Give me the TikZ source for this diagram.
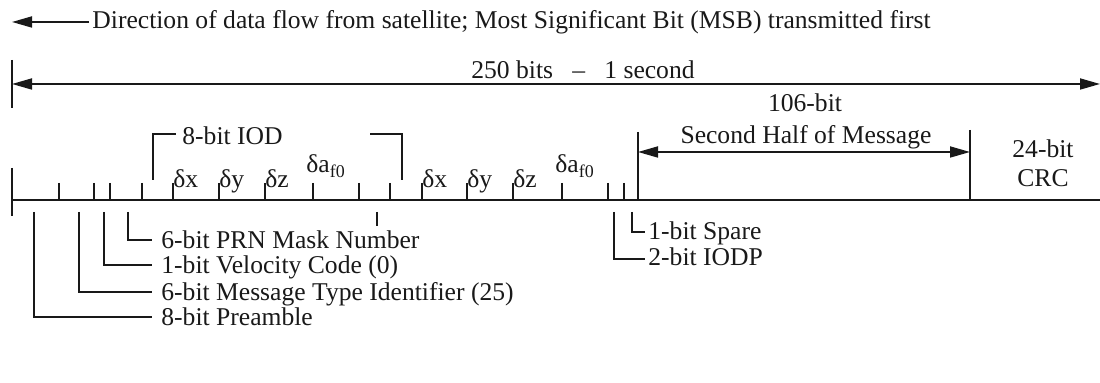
\documentclass[tikz,border=0pt]{standalone}
\usepackage{fontspec}
\setmainfont{Liberation Serif}
\usetikzlibrary{arrows.meta}
\begin{document}
\begin{tikzpicture}[x=0.5pt,y=-0.5pt,
  ln/.style={line width=0.9pt, draw=black!90},
  tip/.style={-{Triangle[length=10pt,width=5.5pt]}},
  tips/.style={{Triangle[length=10pt,width=5.5pt]}-{Triangle[length=10pt,width=5.5pt]}},
  lbl/.style={inner sep=0pt, font=\fontsize{12.8}{15}\selectfont, text=black!90},
  delta/.style={lbl, anchor=base west}]
\useasboundingbox (0,0) rectangle (1100,383);
% top direction arrow
\node[lbl, anchor=west] (dir) at (92,22) {Direction of data flow from satellite; Most Significant Bit (MSB) transmitted first};
\coordinate (dirtip) at (12,22);
\draw[ln, tip] (dir.west) ++(-3,0) -- (dirtip);
% 250 bits arrow
\coordinate (l1) at (12,60); \coordinate (l2) at (12,108);
\draw[ln] (l1) -- (l2);
\coordinate (a250l) at (12,84); \coordinate (a250r) at (1100,84);
\draw[ln, tips] (a250l) -- (a250r);
\node[lbl] (t250) at (583,70) {250 bits\hspace{0.75em}--\hspace{0.75em}1 second};
% main line
\coordinate (m0) at (12,200); \coordinate (m1) at (1100,200);
\draw[ln] (m0) -- (m1);
\coordinate (v0) at (12,168); \coordinate (v1) at (12,216);
\draw[ln] (v0) -- (v1);
% upper ticks
\foreach \x in {59,94,110,142,173,219,265,313,359,390,422,467,513,562,608,624}
  \draw[ln] (\x,183) -- (\x,200);
\draw[ln] (638,132) -- (638,200);
\draw[ln] (970,130) -- (970,200);
% delta labels
\node[delta] (dx1) at (173,188) {δx};
\node[delta] (dy1) at (219,188) {δy};
\node[delta] (dz1) at (265,188) {δz};
\node[delta] (da1) at (306,173) {δa\textsubscript{f0}};
\node[delta] (dx2) at (422,188) {δx};
\node[delta] (dy2) at (467,188) {δy};
\node[delta] (dz2) at (513,188) {δz};
\node[delta] (da2) at (555,173) {δa\textsubscript{f0}};
% IOD bracket
\node[lbl, anchor=west] (iod) at (182,136) {8-bit IOD};
\draw[ln] (153,180) -- (153,134) -- (176,134);
\draw[ln] (370,134) -- (402,134) -- (402,180);
% second half
\node[lbl] (n106) at (805,103) {106-bit};
\node[lbl] (shm) at (806,137) {Second Half of Message};
\coordinate (sh0) at (638,152); \coordinate (sh1) at (970,152);
\draw[ln, tips] (sh0) -- (sh1);
\node[lbl] (crc1) at (1043,149) {24-bit};
\node[lbl] (crc2) at (1043,178) {CRC};
% lower ticks and leaders
\draw[ln] (377,212) -- (377,226);
\node[lbl, anchor=base west] (prn) at (161,249) {6-bit PRN Mask Number};
\node[lbl, anchor=base west] (vel) at (161,274) {1-bit Velocity Code (0)};
\node[lbl, anchor=base west] (mti) at (161,301) {6-bit Message Type Identifier (25)};
\node[lbl, anchor=base west] (pre) at (161,326) {8-bit Preamble};
\draw[ln] (128,212) -- (128,240) -- (152,240);
\draw[ln] (104,212) -- (104,265) -- (152,265);
\draw[ln] (79,212) -- (79,292) -- (152,292);
\draw[ln] (34,212) -- (34,317) -- (152,317);
\node[lbl, anchor=base west] (spr) at (648,240) {1-bit Spare};
\node[lbl, anchor=base west] (iodp) at (648,266) {2-bit IODP};
\draw[ln] (632,212) -- (632,232) -- (645,232);
\draw[ln] (614,212) -- (614,259) -- (645,259);
\end{tikzpicture}
\end{document}
